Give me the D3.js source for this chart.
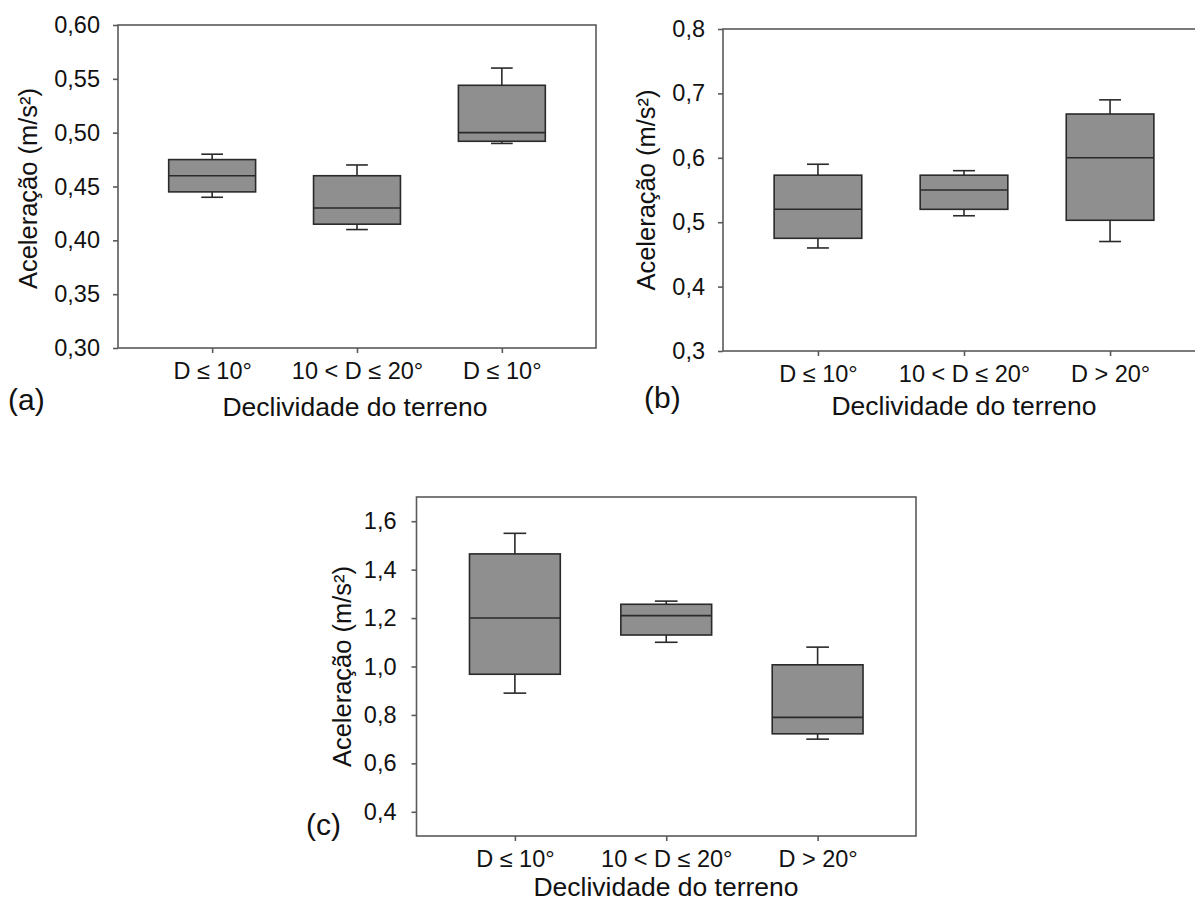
<!DOCTYPE html>
<html>
<head>
<meta charset="utf-8">
<script src="https://cdn.jsdelivr.net/npm/d3@7"></script>
<style>
  body { margin: 0; background: #fff; }
  svg { display: block; }
</style>
</head>
<body>
<svg id="chart" width="1195" height="903"></svg>
<script>
// ---------- Data ----------
const categoriesA = ["D ≤ 10°", "10 < D ≤ 20°", "D ≤ 10°"];
const categoriesB = ["D ≤ 10°", "10 < D ≤ 20°", "D > 20°"];
const categoriesC = ["D ≤ 10°", "10 < D ≤ 20°", "D > 20°"];

const whiskerLowA  = [0.440, 0.410, 0.490];
const q1A          = [0.445, 0.415, 0.492];
const medianA      = [0.460, 0.430, 0.500];
const q3A          = [0.475, 0.460, 0.544];
const whiskerHighA = [0.480, 0.470, 0.560];

const whiskerLowB  = [0.460, 0.510, 0.470];
const q1B          = [0.475, 0.520, 0.503];
const medianB      = [0.520, 0.550, 0.600];
const q3B          = [0.573, 0.573, 0.668];
const whiskerHighB = [0.590, 0.580, 0.690];

const whiskerLowC  = [0.890, 1.100, 0.700];
const q1C          = [0.968, 1.130, 0.722];
const medianC      = [1.200, 1.210, 0.790];
const q3C          = [1.465, 1.257, 1.007];
const whiskerHighC = [1.550, 1.270, 1.080];

const yTicksA = [0.30, 0.35, 0.40, 0.45, 0.50, 0.55, 0.60];
const yTicksB = [0.3, 0.4, 0.5, 0.6, 0.7, 0.8];
const yTicksC = [0.4, 0.6, 0.8, 1.0, 1.2, 1.4, 1.6];

const yTitle = "Aceleração (m/s²)";
const xTitle = "Declividade do terreno";

// ---------- Drawing ----------
const svg = d3.select("#chart");
const FONT = "'Liberation Sans', Arial, sans-serif";
const frameColor = "#5a5a5a";
const boxFill = "#8f8f8f";
const boxStroke = "#2a2a2a";
const textColor = "#111";

function drawPanel(p) {
  const g = svg.append("g");
  const n = p.cats.length;
  const x = d3.scalePoint().domain(d3.range(n)).range([p.left, p.right]).padding(0.65);
  const y = d3.scaleLinear().domain(p.domain).range([p.bottom, p.top]);
  const step = x.step();
  const bw = step * 0.6;
  const cw = step * 0.15;
  const fmt = v => d3.format(p.fmt)(v).replace(".", ",");

  // frame
  g.append("rect")
    .attr("x", p.left).attr("y", p.top)
    .attr("width", p.right - p.left).attr("height", p.bottom - p.top)
    .attr("fill", "none").attr("stroke", frameColor).attr("stroke-width", 1.6);

  // y axis
  const ya = g.append("g").attr("transform", `translate(${p.left},0)`)
    .call(d3.axisLeft(y).tickValues(p.yTicks).tickFormat(fmt).tickSize(5).tickPadding(p.yPad));
  ya.select(".domain").remove();
  ya.selectAll(".tick line").attr("stroke", frameColor).attr("stroke-width", 1.6);
  ya.selectAll(".tick text").attr("font-family", FONT).attr("font-size", 23.5).attr("fill", textColor);

  // x axis
  const xa = g.append("g").attr("transform", `translate(0,${p.bottom})`)
    .call(d3.axisBottom(x).tickFormat(i => p.cats[i]).tickSize(5).tickPadding(9));
  xa.select(".domain").remove();
  xa.selectAll(".tick line").attr("stroke", frameColor).attr("stroke-width", 1.6);
  xa.selectAll(".tick text").attr("font-family", FONT).attr("font-size", 23.5).attr("fill", textColor);

  // boxes
  const idx = d3.range(n);
  const bx = g.append("g");
  idx.forEach(i => {
    const cx = x(i);
    // whiskers
    bx.append("line").attr("x1", cx).attr("x2", cx)
      .attr("y1", y(p.q3[i])).attr("y2", y(p.hi[i]))
      .attr("stroke", boxStroke).attr("stroke-width", 1.6);
    bx.append("line").attr("x1", cx).attr("x2", cx)
      .attr("y1", y(p.q1[i])).attr("y2", y(p.lo[i]))
      .attr("stroke", boxStroke).attr("stroke-width", 1.6);
    bx.append("line").attr("x1", cx - cw / 2).attr("x2", cx + cw / 2)
      .attr("y1", y(p.hi[i])).attr("y2", y(p.hi[i]))
      .attr("stroke", boxStroke).attr("stroke-width", 1.6);
    bx.append("line").attr("x1", cx - cw / 2).attr("x2", cx + cw / 2)
      .attr("y1", y(p.lo[i])).attr("y2", y(p.lo[i]))
      .attr("stroke", boxStroke).attr("stroke-width", 1.6);
    // box
    bx.append("rect")
      .attr("x", cx - bw / 2).attr("width", bw)
      .attr("y", y(p.q3[i])).attr("height", y(p.q1[i]) - y(p.q3[i]))
      .attr("fill", boxFill).attr("stroke", boxStroke).attr("stroke-width", 1.6);
    // median
    bx.append("line").attr("x1", cx - bw / 2).attr("x2", cx + bw / 2)
      .attr("y1", y(p.med[i])).attr("y2", y(p.med[i]))
      .attr("stroke", boxStroke).attr("stroke-width", 1.6);
  });

  // axis titles
  g.append("text")
    .attr("transform", `translate(${p.yTitleX},${(p.top + p.bottom) / 2 + p.yTitleDy}) rotate(-90)`)
    .attr("text-anchor", "middle")
    .attr("font-family", FONT).attr("font-size", 25.5).attr("fill", textColor)
    .text(yTitle);
  g.append("text")
    .attr("x", p.xTitleX).attr("y", p.xTitleY)
    .attr("text-anchor", "middle")
    .attr("font-family", FONT).attr("font-size", 26.5).attr("fill", textColor)
    .text(xTitle);
  // panel letter
  g.append("text")
    .attr("x", p.letterX).attr("y", p.letterY)
    .attr("font-family", FONT).attr("font-size", 30).attr("fill", textColor)
    .text(p.letter);
}

drawPanel({
  cats: categoriesA, lo: whiskerLowA, q1: q1A, med: medianA, q3: q3A, hi: whiskerHighA,
  yTicks: yTicksA, domain: [0.30, 0.60], fmt: ".2f",
  left: 118, right: 596, top: 25, bottom: 348, yPad: 13,
  yTitleX: 37, yTitleDy: 2, xTitleX: 355, xTitleY: 416,
  letter: "(a)", letterX: 8, letterY: 410
});

drawPanel({
  cats: categoriesB, lo: whiskerLowB, q1: q1B, med: medianB, q3: q3B, hi: whiskerHighB,
  yTicks: yTicksB, domain: [0.3, 0.8], fmt: ".1f",
  left: 723, right: 1205, top: 29, bottom: 351, yPad: 13,
  yTitleX: 655, yTitleDy: 0, xTitleX: 964, xTitleY: 415,
  letter: "(b)", letterX: 644, letterY: 408
});

drawPanel({
  cats: categoriesC, lo: whiskerLowC, q1: q1C, med: medianC, q3: q3C, hi: whiskerHighC,
  yTicks: yTicksC, domain: [0.3, 1.7], fmt: ".1f",
  left: 416.5, right: 916, top: 497, bottom: 836, yPad: 15,
  yTitleX: 351, yTitleDy: 0, xTitleX: 666, xTitleY: 896,
  letter: "(c)", letterX: 306, letterY: 835
});
</script>
</body>
</html>
